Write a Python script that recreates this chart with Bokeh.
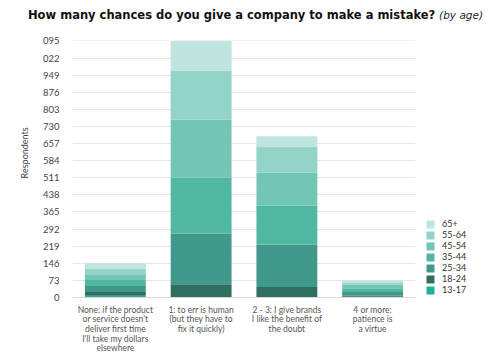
from bokeh.plotting import figure
from bokeh.layouts import column, row
from bokeh.models import (FactorRange, Range1d, FixedTicker, Legend, LegendItem, Div,
                          ColumnDataSource)
from bokeh.embed import file_html
from bokeh.resources import INLINE

categories = [
    "None: if the product\nor service doesn't\ndeliver first time\nI'll take my dollars\nelsewhere",
    "1: to err is human\n(but they have to\nfix it quickly)",
    "2 - 3: I give brands\nI like the benefit of\nthe doubt",
    "4 or more:\npatience is\na virtue",
]
age_groups = ["13-17", "18-24", "25-34", "35-44", "45-54", "55-64", "65+"]
v_13_17 = [8, 2, 1, 3]
v_18_24 = [15, 55, 44, 6]
v_25_34 = [26, 215, 181, 14]
v_35_44 = [26, 239, 167, 17]
v_45_54 = [24, 248, 139, 14]
v_55_64 = [25, 209, 113, 10]
v_65p = [22, 127, 43, 10]
y_ticks = [0, 73, 146, 219, 292, 365, 438, 511, 584, 657, 730, 803, 876, 949, 1022, 1095]
y_tick_labels = {1022: "022", 1095: "095"}
colors = ["#1db394", "#2f6f5f", "#40998a", "#50b8a0", "#73c6b4", "#93d4c6", "#c0e4de"]
title_main = "How many chances do you give a company to make a mistake?"
title_sub = "(by age)"

FONT = "Lato"

source = ColumnDataSource({"cat": categories, "13-17": v_13_17, "18-24": v_18_24,
                           "25-34": v_25_34, "35-44": v_35_44, "45-54": v_45_54,
                           "55-64": v_55_64, "65+": v_65p})

p = figure(width=425, height=326, output_backend="svg", toolbar_location=None,
           x_range=FactorRange(*categories, range_padding=0), y_range=Range1d(0, 1097),
           min_border_left=72, min_border_right=10, min_border_top=10, min_border_bottom=58)
p.outline_line_color = None
p.background_fill_color = "white"
p.border_fill_color = "white"

p.vbar_stack(age_groups, x="cat", width=0.71, color=colors, source=source, line_color=None)

# axes
p.yaxis.ticker = FixedTicker(ticks=y_ticks)
p.yaxis.major_label_overrides = {k: v for k, v in y_tick_labels.items()}
p.yaxis.axis_line_color = None
p.yaxis.major_tick_line_color = None
p.yaxis.major_tick_out = 0
p.yaxis.major_tick_in = 0
p.yaxis.minor_tick_line_color = None
p.yaxis.major_label_standoff = 13
p.yaxis.major_label_text_font = FONT
p.yaxis.major_label_text_font_size = "9.5px"
p.yaxis.major_label_text_color = "#444444"
p.yaxis.axis_label = "\u00a0" * 14 + "Respondents"
p.yaxis.axis_label_standoff = 10
p.yaxis.axis_label_text_font = FONT
p.yaxis.axis_label_text_font_size = "9px"
p.yaxis.axis_label_text_font_style = "normal"
p.yaxis.axis_label_text_color = "#444444"

p.xaxis.axis_line_color = "#d8d8d8"
p.xaxis.major_tick_line_color = None
p.xaxis.major_tick_out = 0
p.xaxis.major_tick_in = 0
p.xaxis.major_label_standoff = 7
p.xaxis.major_label_text_font = FONT
p.xaxis.major_label_text_font_size = "8.5px"
p.xaxis.major_label_text_color = "#555555"
p.xaxis.major_label_text_line_height = 0.97

p.xgrid.grid_line_color = None
p.ygrid.grid_line_color = "#e6e6e6"
p.ygrid.grid_line_width = 1

# legend in its own small figure; its (hidden) bars share the same data and colours
lf = figure(width=75, height=326, output_backend="svg", toolbar_location=None,
            x_range=FactorRange(*categories), y_range=Range1d(0, 1097),
            x_axis_location=None, y_axis_location=None,
            min_border_left=0, min_border_right=0, min_border_top=0, min_border_bottom=0)
lf.outline_line_color = None
lf.grid.visible = False
swatches = lf.vbar_stack(age_groups, x="cat", width=0.71, color=colors, source=source,
                         line_color=None)
for r in swatches:
    r.visible = False
items = [LegendItem(label=g, renderers=[r]) for g, r in zip(age_groups, swatches)][::-1]
legend = Legend(items=items, location=(0, 2), orientation="vertical",
                glyph_width=10, glyph_height=10, label_height=11, spacing=0,
                padding=0, margin=0, label_standoff=7,
                inactive_fill_alpha=0, inactive_fill_color="white",
                label_text_font=FONT, label_text_font_size="9px", label_text_color="#333333",
                border_line_color=None, background_fill_alpha=0)
lf.add_layout(legend)

title_div = Div(
    text=('<div style="font-family:\'DejaVu Sans\';line-height:30px;padding-left:28px;white-space:nowrap;color:#111">'
          f'<span style="font-weight:bold;font-size:11.5px">{title_main}</span> '
          f'<span style="font-style:italic;font-size:10.5px;color:#222">{title_sub}</span></div>'),
    width=500, height=30, margin=0)

layout = column(title_div, row(p, lf, spacing=0, margin=0), spacing=0, margin=0)

open("out.html", "w").write(file_html(layout, INLINE))
